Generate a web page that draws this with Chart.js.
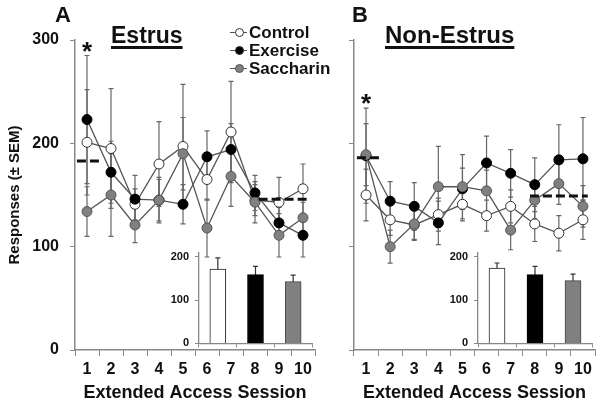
<!DOCTYPE html>
<html>
<head>
<meta charset="utf-8">
<script src="https://cdn.jsdelivr.net/npm/chart.js@4.4.1/dist/chart.umd.min.js"></script>
<style>
body { margin: 0; background: #fff; font-family: "Liberation Sans", Arial, sans-serif; }
#wrap { position: relative; width: 601px; height: 407px; overflow: hidden; }
canvas { position: absolute; }
.lbl { position: absolute; font-weight: bold; color: #111; white-space: nowrap; }
.panel { font-size: 22px; line-height: 22px; }
.ttl { text-decoration: underline; text-decoration-thickness: 2.5px; text-underline-offset: 3px; }
.leg { font-size: 17px; line-height: 17px; left: 230px; }
.sym { display: inline-block; position: relative; width: 17px; height: 10px; margin-right: 2px; vertical-align: 1px; }
.sym:before { content: ""; position: absolute; left: 0; right: 0; top: 5px; border-top: 1px solid #555; }
.sym i { position: absolute; left: 5px; top: 1px; width: 7px; height: 7px; border-radius: 50%; border: 1px solid #333; box-sizing: content-box; }
</style>
</head>
<body>
<div id="wrap">
  <canvas id="mainA" width="321" height="407" style="left:0;top:0"></canvas>
  <canvas id="mainB" width="301" height="407" style="left:300px;top:0"></canvas>
  <canvas id="insetA" width="170" height="116" style="left:150px;top:240px"></canvas>
  <canvas id="insetB" width="170" height="116" style="left:430px;top:240px"></canvas>

  <div class="lbl panel" style="left:55px;top:4px">A</div>
  <div class="lbl panel" style="left:352px;top:4px">B</div>
  <div class="lbl ttl" style="left:111px;top:24px;font-size:23px;line-height:23px">Estrus</div>
  <div class="lbl ttl" style="left:385px;top:23px;font-size:24px;line-height:24px">Non-Estrus</div>

  <div class="lbl leg" style="top:24px"><span class="sym"><i style="background:#fff"></i></span>Control</div>
  <div class="lbl leg" style="top:42px"><span class="sym"><i style="background:#000"></i></span>Exercise</div>
  <div class="lbl leg" style="top:60px"><span class="sym"><i style="background:#808080;border-color:#555"></i></span>Saccharin</div>
</div>

<script>
// sessions on the x axis
const sessions = ['1', '2', '3', '4', '5', '6', '7', '8', '9', '10'];

// Estrus (panel A), mean responses and SEM
const estrusControl = [201, 195, 141, 180, 197, 165, 211, 145, 143, 156];
const estrusControlErr = [51, 58, 15, 41, 60, 20, 49, 15, 24, 24];
const estrusExercise = [223, 172, 146, 145, 141, 187, 194, 152, 123, 111];
const estrusExerciseErr = [62, 30, 23, 20, 19, 25, 25, 17, 15, 21];
const estrusSaccharin = [134, 150, 121, 145, 190, 118, 168, 143, 111, 128];
const estrusSaccharinErr = [24, 40, 17, 22, 35, 28, 29, 20, 21, 15];

// Non-Estrus (panel B)
const nonEstrusControl = [150, 126, 121, 131, 141, 130, 139, 122, 113, 126];
const nonEstrusControlErr = [25, 15, 15, 16, 16, 15, 16, 17, 17, 19];
const nonEstrusExercise = [188, 144, 139, 123, 156, 181, 171, 160, 184, 185];
const nonEstrusExerciseErr = [46, 19, 23, 21, 20, 26, 23, 26, 34, 40];
const nonEstrusSaccharin = [189, 100, 122, 158, 158, 154, 116, 145, 161, 139];
const nonEstrusSaccharinErr = [30, 16, 15, 39, 31, 20, 19, 18, 20, 20];

// dashed reference levels: baseline and late-session mean
const estrusBaseline = 183;
const estrusLateMean = 146;
const nonEstrusBaseline = 186;
const nonEstrusLateMean = 149;

// significant sessions (asterisk), index into sessions
const estrusSig = [0];
const nonEstrusSig = [0];

// inset bar charts (overall means)
const groups = ['Control', 'Exercise', 'Saccharin'];
const insetEstrus = [172, 159, 143];
const insetEstrusErr = [26, 19, 15];
const insetNonEstrus = [174, 159, 145];
const insetNonEstrusErr = [12, 19, 15];

// y axis ticks
const yMax = 300;
const yStep = 100;
const insetMax = 210;
const insetTicks = [0, 100, 200];

Chart.defaults.font.family = "'Liberation Sans', Arial, sans-serif";
Chart.defaults.color = '#111';

const axisGray = '#888';

// draws error bars from dataset.err, behind the marks
const errorBars = {
    id: 'errorBars',
    beforeDatasetsDraw(chart, args, opts) {
        const ctx = chart.ctx;
        const y = chart.scales.y;
        ctx.save();
        ctx.strokeStyle = opts.color || '#666';
        ctx.lineWidth = opts.width || 1.2;
        const cap = opts.cap || 2.5;
        chart.data.datasets.forEach((ds, di) => {
            const meta = chart.getDatasetMeta(di);
            meta.data.forEach((el, i) => {
                const v = ds.data[i], e = ds.err[i];
                const top = y.getPixelForValue(v + e);
                const bot = y.getPixelForValue(v - e);
                ctx.beginPath();
                ctx.moveTo(el.x, top); ctx.lineTo(el.x, bot);
                ctx.moveTo(el.x - cap, top); ctx.lineTo(el.x + cap, top);
                ctx.moveTo(el.x - cap, bot); ctx.lineTo(el.x + cap, bot);
                ctx.stroke();
            });
        });
        ctx.restore();
    }
};

// dashed reference lines + asterisks
const refMarks = {
    id: 'refMarks',
    afterDatasetsDraw(chart, args, opts) {
        const ctx = chart.ctx;
        const x = chart.scales.x, y = chart.scales.y;
        ctx.save();
        ctx.strokeStyle = '#111';
        ctx.lineWidth = 3;
        ctx.setLineDash([9, 4]);
        opts.lines.forEach(l => {
            const py = y.getPixelForValue(l.value);
            ctx.beginPath();
            ctx.moveTo(x.getPixelForValue(l.from), py);
            ctx.lineTo(x.getPixelForValue(l.to), py);
            ctx.stroke();
        });
        ctx.setLineDash([]);
        ctx.fillStyle = '#111';
        ctx.font = 'bold 26px "Liberation Sans", Arial, sans-serif';
        ctx.textAlign = 'center';
        ctx.textBaseline = 'middle';
        opts.sig.forEach(i => {
            let top = 0;
            chart.data.datasets.forEach(ds => { top = Math.max(top, ds.data[i] + ds.err[i]); });
            ctx.fillText('*', x.getPixelForValue(i), y.getPixelForValue(top) - 3);
        });
        ctx.restore();
    }
};

function lineSet(label, data, err, fill, border, order) {
    return {
        label: label, data: data, err: err, order: order,
        borderColor: '#555', borderWidth: 1.3,
        pointRadius: 5, pointHoverRadius: 5,
        pointBackgroundColor: fill, pointBorderColor: border, pointBorderWidth: 1
    };
}

function mainChart(id, ctrl, ctrlErr, exer, exerErr, sacc, saccErr, showY, yWidth, lines, sig) {
    return new Chart(document.getElementById(id), {
        type: 'line',
        data: {
            labels: sessions,
            datasets: [
                lineSet('Control', ctrl, ctrlErr, '#fff', '#333', 2),
                lineSet('Exercise', exer, exerErr, '#000', '#000', 1),
                lineSet('Saccharin', sacc, saccErr, '#808080', '#555', 0)
            ]
        },
        options: {
            responsive: false,
            animation: false,
            events: [],
            layout: { padding: { left: 0, top: 40, right: 6, bottom: 0 } },
            plugins: {
                legend: { display: false },
                tooltip: { enabled: false },
                errorBars: { color: '#666', width: 1.2, cap: 2.5 },
                refMarks: { lines: lines, sig: sig }
            },
            scales: {
                x: {
                    offset: true,
                    border: { color: axisGray, width: 1.5 },
                    grid: { offset: true, drawOnChartArea: false, tickLength: 6, color: axisGray },
                    ticks: { font: { size: 16, weight: 'bold' }, color: '#111', padding: 4, maxRotation: 0, autoSkip: false },
                    title: { display: true, text: 'Extended Access Session', font: { size: 18, weight: 'bold' }, color: '#111', padding: { top: 0, bottom: 3 } },
                    afterFit(s) { s.height = 57; }
                },
                y: {
                    min: 0, max: yMax,
                    border: { color: axisGray, width: 1.5 },
                    grid: { drawOnChartArea: false, tickLength: 5, color: axisGray },
                    ticks: { stepSize: yStep, padding: 11, font: { size: 16, weight: 'bold' }, color: showY ? '#111' : 'rgba(0,0,0,0)' },
                    title: { display: showY, text: 'Responses (± SEM)', font: { size: 15, weight: 'bold' }, color: '#111', padding: { top: 6, bottom: 0 } },
                    afterFit(s) { s.width = yWidth; }
                }
            }
        },
        plugins: [errorBars, refMarks]
    });
}

function insetChart(id, data, err, yWidth) {
    return new Chart(document.getElementById(id), {
        type: 'bar',
        data: {
            labels: groups,
            datasets: [{
                data: data, err: err,
                backgroundColor: ['#fff', '#000', '#808080'],
                borderColor: ['#222', '#000', '#444'],
                borderWidth: 1, barThickness: 16
            }]
        },
        options: {
            responsive: false,
            animation: false,
            events: [],
            layout: { padding: { left: 0, top: 12, right: 8, bottom: 0 } },
            plugins: {
                legend: { display: false },
                tooltip: { enabled: false },
                errorBars: { color: '#333', width: 1.2, cap: 2.5 }
            },
            scales: {
                x: {
                    offset: true,
                    border: { color: axisGray, width: 1.3 },
                    grid: { offset: true, drawOnChartArea: false, tickLength: 4, color: axisGray },
                    ticks: { callback: () => '' },
                    afterFit(s) { s.height = 12; }
                },
                y: {
                    min: 0, max: insetMax,
                    border: { color: axisGray, width: 1.3 },
                    grid: { drawOnChartArea: false, tickLength: 4, color: axisGray },
                    ticks: { autoSkip: false, padding: 6, font: { size: 11, weight: 'bold' }, color: '#111' },
                    afterBuildTicks(s) { s.ticks = insetTicks.map(v => ({ value: v })); },
                    afterFit(s) { s.width = yWidth; }
                }
            }
        },
        plugins: [errorBars]
    });
}

mainChart('mainA', estrusControl, estrusControlErr, estrusExercise, estrusExerciseErr,
    estrusSaccharin, estrusSaccharinErr, true, 75,
    [{ value: estrusBaseline, from: -0.42, to: 0.62 }, { value: estrusLateMean, from: 7.15, to: 9.25 }],
    estrusSig);

mainChart('mainB', nonEstrusControl, nonEstrusControlErr, nonEstrusExercise, nonEstrusExerciseErr,
    nonEstrusSaccharin, nonEstrusSaccharinErr, false, 54,
    [{ value: nonEstrusBaseline, from: -0.38, to: 0.62 }, { value: nonEstrusLateMean, from: 6.8, to: 9.2 }],
    nonEstrusSig);

insetChart('insetA', insetEstrus, insetEstrusErr, 49);
insetChart('insetB', insetNonEstrus, insetNonEstrusErr, 48);
</script>
</body>
</html>
